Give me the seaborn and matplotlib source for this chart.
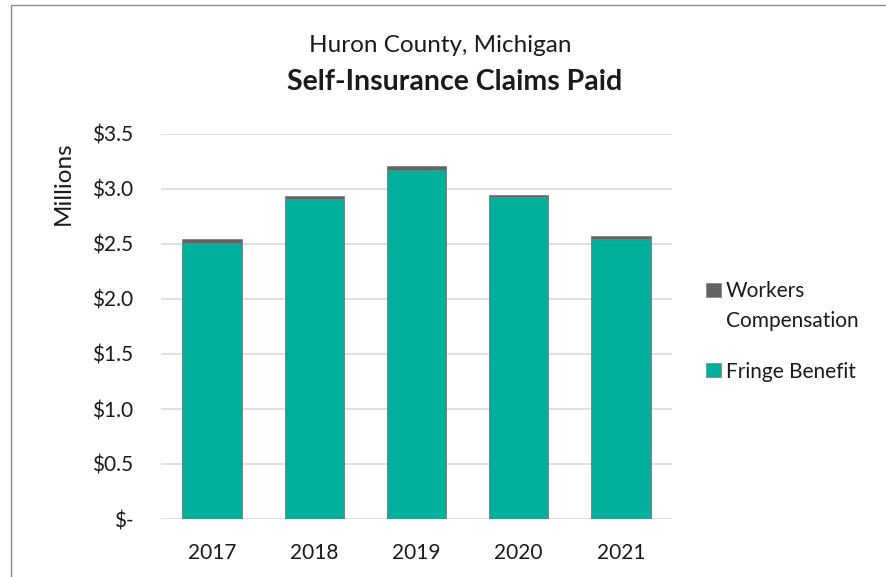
import matplotlib
matplotlib.use("Agg")
import matplotlib.pyplot as plt
import matplotlib.patches as mpatches
from matplotlib.lines import Line2D
import seaborn as sns
import pandas as pd

years = ["2017", "2018", "2019", "2020", "2021"]
fringe_benefit = [2.509, 2.906, 3.175, 2.930, 2.548]
workers_comp = [0.036, 0.033, 0.036, 0.015, 0.022]
y_ticks = [0.0, 0.5, 1.0, 1.5, 2.0, 2.5, 3.0, 3.5]
y_tick_labels = ["$-", "$0.5", "$1.0", "$1.5", "$2.0", "$2.5", "$3.0", "$3.5"]
legend_labels = ["Workers\nCompensation", "Fringe Benefit"]

teal = "#00B09C"
grey = "#636363"
txt = "#1a1a1a"

sns.set_theme(style="white")
plt.rcParams["font.family"] = ["Lato", "DejaVu Sans"]

df = pd.DataFrame({
    "year": years,
    "fringe": fringe_benefit,
    "total": [f + w for f, w in zip(fringe_benefit, workers_comp)],
})

fig = plt.figure(figsize=(8.86, 5.77), dpi=100)
W, H = 886, 577
ax = fig.add_axes([161 / W, 1 - 519 / H, (672 - 161) / W, (519 - 134) / H])

sns.barplot(data=df, x="year", y="total", color=grey, width=0.58, ax=ax,
            saturation=1, edgecolor="#7f7f7f", linewidth=0.6, zorder=3)
sns.barplot(data=df, x="year", y="fringe", color=teal, width=0.58, ax=ax,
            saturation=1, edgecolor="#7f7f7f", linewidth=0.6, zorder=3)

ax.set_ylim(0, 3.5)
ax.set_xlim(-0.5, 4.5)
ax.set_yticks(y_ticks)
ax.set_yticklabels(y_tick_labels, fontsize=15, color=txt)
ax.tick_params(axis="x", labelsize=15, colors=txt, length=0, pad=17)
ax.tick_params(axis="y", length=0, pad=20)
ax.set_xlabel("")
ax.set_ylabel("")
for s in ax.spines.values():
    s.set_visible(False)
ax.yaxis.grid(True, color="#d9d9d9", linewidth=1.2, zorder=0)
ax.set_axisbelow(True)

fig.text(63 / W, 1 - 183 / H, "Millions", rotation=90, ha="center", va="center",
         fontsize=17.5, color=txt)
fig.text(440 / W, 1 - 46 / H, "Huron County, Michigan", ha="center", va="center",
         fontsize=17.5, color=txt)
fig.text(455 / W, 1 - 82 / H, "Self-Insurance Claims Paid", ha="center", va="center",
         fontsize=20.5, fontweight="bold", color=txt)

# legend (drawn manually to match Excel layout: marker aligned with first line)
leg_colors = [grey, teal]
leg_tops = [282.5, 362.7]
for c, top, lab in zip(leg_colors, leg_tops, legend_labels):
    fig.add_artist(mpatches.Rectangle((706 / W, 1 - (top + 14.5) / H), 15 / W, 14.5 / H,
                                      transform=fig.transFigure, facecolor=c,
                                      edgecolor="#7f7f7f", linewidth=0.5))
    for i, line in enumerate(lab.split("\n")):
        fig.text(726 / W, 1 - (top + 14.8 + 30 * i) / H, line, ha="left",
                 va="baseline", fontsize=15, color=txt)

fig.add_artist(Line2D([11 / W, 11 / W], [0, 1 - 5 / H], transform=fig.transFigure,
                      color="#8c8c8c", linewidth=1.0))
fig.add_artist(Line2D([11 / W, 1], [1 - 5 / H, 1 - 5 / H], transform=fig.transFigure,
                      color="#8c8c8c", linewidth=1.0))

fig.savefig("out.png", dpi=100, facecolor="white")
